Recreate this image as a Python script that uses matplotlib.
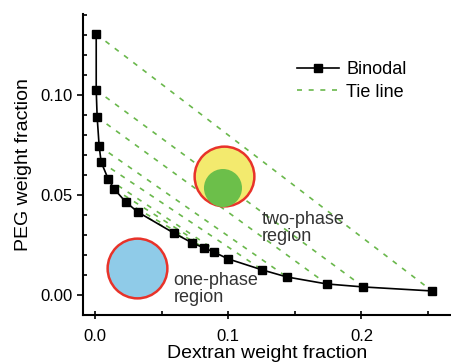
import matplotlib
matplotlib.use("Agg")
import matplotlib.pyplot as plt
from matplotlib.ticker import MultipleLocator

plt.rcParams['font.family'] = ['Liberation Sans', 'DejaVu Sans']

# Binodal curve (Dextran, PEG weight fractions)
binodal_x = [0.0008, 0.0008, 0.0015, 0.003, 0.0045, 0.0098, 0.0143, 0.023, 0.032,
             0.059, 0.073, 0.082, 0.089, 0.100, 0.1256, 0.144, 0.174, 0.2015, 0.253]
binodal_y = [0.1305, 0.1025, 0.089, 0.0745, 0.0665, 0.058, 0.053, 0.0465, 0.0415,
             0.031, 0.026, 0.0235, 0.0215, 0.018, 0.0125, 0.009, 0.0055, 0.004, 0.002]

# tie lines connect these binodal points (PEG-rich end, dextran-rich end)
tie_start = [0, 1, 2, 3, 4, 5, 6, 7, 8]
tie_end = [18, 17, 16, 15, 14, 13, 12, 11, 10]

# illustration circles: (x, y) in data units
two_phase_pos = (0.0968, 0.0595)
two_phase_drop = (0.096, 0.0535)
one_phase_pos = (0.0315, 0.0135)

fig = plt.figure(figsize=(4.52, 3.62), dpi=100)
ax = fig.add_axes([0.184, 0.130, 0.816, 0.831])

tie_color = '#6ab84c'
for i, (a, b) in enumerate(zip(tie_start, tie_end)):
    ax.plot([binodal_x[a], binodal_x[b]], [binodal_y[a], binodal_y[b]],
            color=tie_color, lw=1.2, ls=(0, (3, 4)), zorder=2,
            label='Tie line' if i == 0 else None)

ax.plot(binodal_x, binodal_y, color='black', lw=1.2, marker='s', ms=5.5,
        mfc='black', mec='black', zorder=5, label='Binodal')

red = '#e8332a'
ax.scatter(*two_phase_pos, s=1850, color='#f3ea6e', edgecolors=red,
           linewidths=1.8, zorder=3)
ax.scatter(*two_phase_drop, s=750, color='#6cbf4a', edgecolors='none', zorder=4)
ax.scatter(*one_phase_pos, s=1850, color='#8fcbe8', edgecolors=red,
           linewidths=1.8, zorder=3)

ax.text(0.125, 0.042, 'two-phase\nregion', fontsize=13, color='#333333',
        ha='left', va='top', linespacing=1.0)
ax.text(0.059, 0.0115, 'one-phase\nregion', fontsize=13, color='#333333',
        ha='left', va='top', linespacing=1.0)

ax.set_xlim(-0.009, 0.268)
ax.set_ylim(-0.01, 0.1405)
ax.xaxis.set_major_locator(MultipleLocator(0.1))
ax.xaxis.set_minor_locator(MultipleLocator(0.05))
ax.yaxis.set_major_locator(MultipleLocator(0.05))
ax.yaxis.set_minor_locator(MultipleLocator(0.01))
ax.xaxis.set_major_formatter(matplotlib.ticker.FormatStrFormatter('%.1f'))
ax.yaxis.set_major_formatter(matplotlib.ticker.FormatStrFormatter('%.2f'))
ax.tick_params(axis='x', which='major', direction='inout', length=6, width=1.2,
               labelsize=12, pad=7)
ax.tick_params(axis='x', which='minor', direction='in', length=3, width=1.2)
ax.tick_params(axis='y', which='major', direction='out', length=4, width=1.2,
               labelsize=12)
ax.tick_params(axis='y', which='minor', direction='in', length=3, width=1.2)

for side in ['top', 'right']:
    ax.spines[side].set_visible(False)
for side in ['left', 'bottom']:
    ax.spines[side].set_linewidth(1.5)

ax.set_xlabel('Dextran weight fraction', fontsize=14, labelpad=1)
ax.set_ylabel('PEG weight fraction', fontsize=14, labelpad=6)

handles, labels = ax.get_legend_handles_labels()
ax.legend(handles[::-1], labels[::-1], loc='upper left',
          bbox_to_anchor=(0.556, 0.873), frameon=False, fontsize=13,
          numpoints=1, handlelength=2.3, handletextpad=0.4, borderpad=0,
          labelspacing=0.3)

fig.savefig('out.png', dpi=100)
